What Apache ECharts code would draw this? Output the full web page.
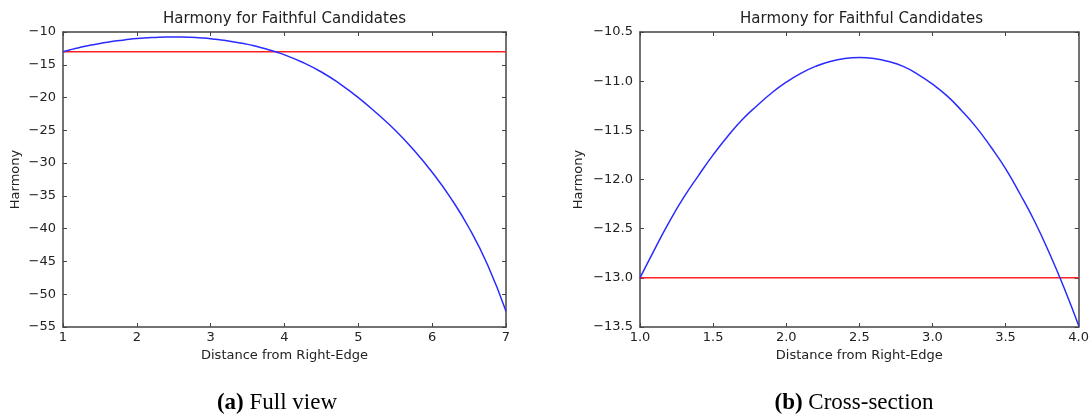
<!DOCTYPE html>
<html>
<head>
<meta charset="utf-8">
<script src="https://cdn.jsdelivr.net/npm/echarts@6/dist/echarts.min.js"></script>
<style>
html,body{margin:0;padding:0;background:#fff;}
#chart{width:1092px;height:417px;}
</style>
</head>
<body>
<div id="chart"></div>
<script>
// Distance from right edge (x) and harmony of the candidate (blue curve)
const distance = [1.0,1.1,1.2,1.3,1.4,1.5,1.6,1.7,1.8,1.9,2.0,2.1,2.2,2.3,2.4,2.5,2.6,2.7,2.8,2.9,3.0,
                  3.1,3.2,3.3,3.4,3.5,3.6,3.7,3.8,3.9,4.0,4.25,4.5,4.75,5.0,5.25,5.5,5.75,6.0,6.25,6.5,6.75,7.0];
const harmony = [-13.00,-12.71,-12.43,-12.18,-11.96,-11.75,-11.56,-11.39,-11.25,-11.12,-11.01,
                 -10.92,-10.85,-10.80,-10.77,-10.76,-10.77,-10.80,-10.85,-10.93,-11.03,
                 -11.15,-11.30,-11.47,-11.67,-11.89,-12.15,-12.43,-12.75,-13.10,-13.485,
                 -14.65,-16.1,-17.9,-20.0,-22.4,-25.0,-28.0,-31.4,-35.3,-39.9,-45.5,-52.6];
// Harmony of the faithful candidate (red line)
const faithfulHarmony = -13;

// Axis ranges / ticks
const fullX = {min: 1, max: 7, interval: 1};
const fullY = {min: -55, max: -10, interval: 5};
const crossX = {min: 1, max: 4, interval: 0.5};
const crossY = {min: -13.5, max: -10.5, interval: 0.5};

const titleText = 'Harmony for Faithful Candidates';
const xName = 'Distance from Right-Edge';
const yName = 'Harmony';
const captions = [['(a)', ' Full view'], ['(b)', ' Cross-section']];

const FONT = 'DejaVu Sans';
const AXIS_COLOR = '#444';
const BLUE = '#2b2bff';
const RED = '#ff2020';
const minus = s => s.replace('-', '\u2212');

const fullPts = distance.map((d, i) => [d, harmony[i]]);
const crossPts = fullPts.filter(p => p[0] <= crossX.max);

function baseX(r, grid, fmt) {
  return {
    type: 'value', gridIndex: grid, min: r.min, max: r.max, interval: r.interval,
    position: 'bottom',
    name: xName, nameLocation: 'middle', nameGap: 22,
    nameTextStyle: {fontFamily: FONT, fontSize: 13, color: '#222'},
    axisLine: {show: true, onZero: false, lineStyle: {color: AXIS_COLOR, width: 1.5}},
    axisTick: {show: true, inside: true, length: 4, lineStyle: {color: AXIS_COLOR}},
    axisLabel: {fontFamily: FONT, fontSize: 13, color: '#222', margin: 4,
                showMinLabel: true, showMaxLabel: true, formatter: fmt},
    splitLine: {show: false}
  };
}
function mirrorX(r, grid) {
  return {
    type: 'value', gridIndex: grid, min: r.min, max: r.max, interval: r.interval,
    position: 'top',
    axisLine: {show: true, onZero: false, lineStyle: {color: AXIS_COLOR, width: 1.5}},
    axisTick: {show: true, inside: true, length: 4, lineStyle: {color: AXIS_COLOR}},
    axisLabel: {show: false}, splitLine: {show: false}
  };
}
function baseY(r, grid, fmt, gap) {
  return {
    type: 'value', gridIndex: grid, min: r.min, max: r.max, interval: r.interval,
    position: 'left',
    name: yName, nameLocation: 'middle', nameGap: gap,
    nameTextStyle: {fontFamily: FONT, fontSize: 13, color: '#222'},
    axisLine: {show: true, onZero: false, lineStyle: {color: AXIS_COLOR, width: 1.5}},
    axisTick: {show: true, inside: true, length: 4, lineStyle: {color: AXIS_COLOR}},
    axisLabel: {fontFamily: FONT, fontSize: 13, color: '#222', margin: 7,
                showMinLabel: true, showMaxLabel: true, formatter: fmt},
    splitLine: {show: false}
  };
}
function mirrorY(r, grid) {
  return {
    type: 'value', gridIndex: grid, min: r.min, max: r.max, interval: r.interval,
    position: 'right',
    axisLine: {show: true, onZero: false, lineStyle: {color: AXIS_COLOR, width: 1.5}},
    axisTick: {show: true, inside: true, length: 4, lineStyle: {color: AXIS_COLOR}},
    axisLabel: {show: false}, splitLine: {show: false}
  };
}

const grids = [
  {left: 63, top: 32, width: 443, height: 295},
  {left: 640, top: 32, width: 443, height: 295}
];

function textAt(x, y, text, style) {
  return {type: 'text', x: x, y: y, style: Object.assign({text: text, align: 'center', verticalAlign: 'middle', fill: '#222'}, style)};
}

const option = {
  animation: false,
  backgroundColor: '#fff',
  grid: grids,
  xAxis: [
    baseX(fullX, 0, v => String(v)),
    mirrorX(fullX, 0),
    baseX(crossX, 1, v => v.toFixed(1)),
    mirrorX(crossX, 1)
  ],
  yAxis: [
    baseY(fullY, 0, v => minus(String(v)), 41),
    mirrorY(fullY, 0),
    baseY(crossY, 1, v => minus(v.toFixed(1)), 55),
    mirrorY(crossY, 1)
  ],
  graphic: [
    textAt(grids[0].left + grids[0].width / 2, 19, titleText, {font: '15px "DejaVu Sans"'}),
    textAt(grids[1].left + grids[1].width / 2, 19, titleText, {font: '15px "DejaVu Sans"'}),
    {type: 'text', x: 277, y: 403, style: {
      text: '{b|' + captions[0][0] + '}{r|' + captions[0][1] + '}', align: 'center', verticalAlign: 'middle',
      rich: {b: {fontFamily: 'Liberation Serif', fontSize: 23, fontWeight: 'bold', fill: '#000'},
             r: {fontFamily: 'Liberation Serif', fontSize: 23, fill: '#000'}}}},
    {type: 'text', x: 854, y: 403, style: {
      text: '{b|' + captions[1][0] + '}{r|' + captions[1][1] + '}', align: 'center', verticalAlign: 'middle',
      rich: {b: {fontFamily: 'Liberation Serif', fontSize: 23, fontWeight: 'bold', fill: '#000'},
             r: {fontFamily: 'Liberation Serif', fontSize: 23, fill: '#000'}}}}
  ],
  series: [
    {type: 'line', xAxisIndex: 0, yAxisIndex: 0, data: fullPts, smooth: 0.5, showSymbol: false,
     lineStyle: {color: BLUE, width: 1.5}, z: 3},
    {type: 'line', xAxisIndex: 0, yAxisIndex: 0, data: [[fullX.min, faithfulHarmony], [fullX.max, faithfulHarmony]],
     showSymbol: false, lineStyle: {color: RED, width: 1.5}, z: 2},
    {type: 'line', xAxisIndex: 2, yAxisIndex: 2, data: crossPts, smooth: 0.5, showSymbol: false,
     lineStyle: {color: BLUE, width: 1.5}, z: 3},
    {type: 'line', xAxisIndex: 2, yAxisIndex: 2, data: [[crossX.min, faithfulHarmony], [crossX.max, faithfulHarmony]],
     showSymbol: false, lineStyle: {color: RED, width: 1.5}, z: 2}
  ]
};

const chart = echarts.init(document.getElementById('chart'), null, {renderer: 'canvas'});
chart.setOption(option);
</script>
</body>
</html>
